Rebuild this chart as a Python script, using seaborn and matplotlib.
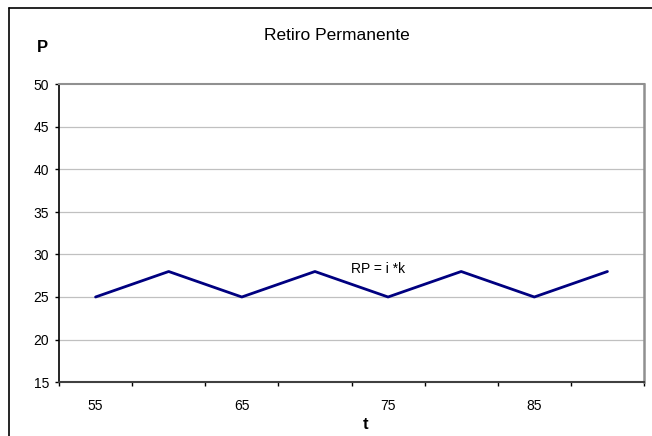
import matplotlib
matplotlib.use("Agg")
import matplotlib.pyplot as plt
from matplotlib.lines import Line2D
from matplotlib.ticker import FixedLocator, FixedFormatter
import seaborn as sns
import numpy as np
import pandas as pd

# data
t_values = [55, 60, 65, 70, 75, 80, 85, 90]
p_values = [25, 28, 25, 28, 25, 28, 25, 28]
label_every = 2
y_ticks = [15, 20, 25, 30, 35, 40, 45, 50]
title = "Retiro Permanente"
annotation = "RP = i *k"

sns.set_theme(style="white")
plt.rcParams['font.family'] = ['Liberation Sans', 'DejaVu Sans']
plt.rcParams['text.color'] = 'black'
plt.rcParams['xtick.color'] = 'black'
plt.rcParams['ytick.color'] = 'black'
plt.rcParams['xtick.labelcolor'] = 'black'
plt.rcParams['ytick.labelcolor'] = 'black'

df = pd.DataFrame({"pos": np.arange(len(t_values)), "P": p_values})

fig = plt.figure(figsize=(6.52, 4.36), dpi=100)
W, H = 652, 436
ax = fig.add_axes([59 / W, (H - 382) / H, (644 - 59) / W, (382 - 84.5) / H])

sns.lineplot(data=df, x="pos", y="P", ax=ax, color="#000080", linewidth=2.0, zorder=3)

ax.set_xlim(-0.5, len(t_values) - 0.5)
ax.set_ylim(min(y_ticks), max(y_ticks))
ax.set_yticks(y_ticks)
ax.set_yticklabels([str(v) for v in y_ticks], fontsize=10, color="black")

# major ticks at category boundaries, labels on minor ticks at centers
bounds = np.arange(len(t_values) + 1) - 0.5
ax.xaxis.set_major_locator(FixedLocator(bounds))
ax.xaxis.set_major_formatter(FixedFormatter([""] * len(bounds)))
lab_pos = list(range(0, len(t_values), label_every))
ax.xaxis.set_minor_locator(FixedLocator(lab_pos))
ax.xaxis.set_minor_formatter(FixedFormatter([str(t_values[i]) for i in lab_pos]))
ax.tick_params(axis="x", which="major", direction="out", length=3, width=1, color="black", bottom=True)
ax.tick_params(axis="x", which="minor", length=0, pad=12, labelsize=10, labelcolor="black", bottom=True)
ax.tick_params(axis="y", direction="out", length=3, width=1, color="black", labelcolor="black", pad=4, left=True)

ax.set_xlabel("")
ax.set_ylabel("")

ax.grid(False)
for yv in y_ticks[1:-1]:
    ax.axhline(yv, color="#C0C0C0", linewidth=0.9, zorder=1)

ax.spines["left"].set_color("black")
ax.spines["bottom"].set_color("#404040")
ax.spines["bottom"].set_linewidth(1.5)
ax.spines["left"].set_linewidth(1.2)
ax.spines["top"].set_color("#909090")
ax.spines["right"].set_color("#909090")
ax.spines["top"].set_linewidth(1.5)
ax.spines["right"].set_linewidth(1.8)

fig.text(337 / W, 1 - 35 / H, title, ha="center", va="center", fontsize=12.5, color="black")
fig.text(42 / W, 1 - 47 / H, "P", ha="center", va="center", fontsize=12, fontweight="bold", color="black")
fig.text(366 / W, 1 - 424 / H, "t", ha="center", va="center", fontsize=12, fontweight="bold", color="black")
fig.text(351 / W, 1 - 269 / H, annotation, ha="left", va="center", fontsize=10, color="black")

# outer chart border (top and left visible)
fig.add_artist(Line2D([9 / W, 9 / W], [0, 1 - 8.5 / H], color="black", linewidth=1.2))
fig.add_artist(Line2D([9 / W, 1], [1 - 8.5 / H, 1 - 8.5 / H], color="black", linewidth=1.2))

fig.savefig("out.png", dpi=100)
